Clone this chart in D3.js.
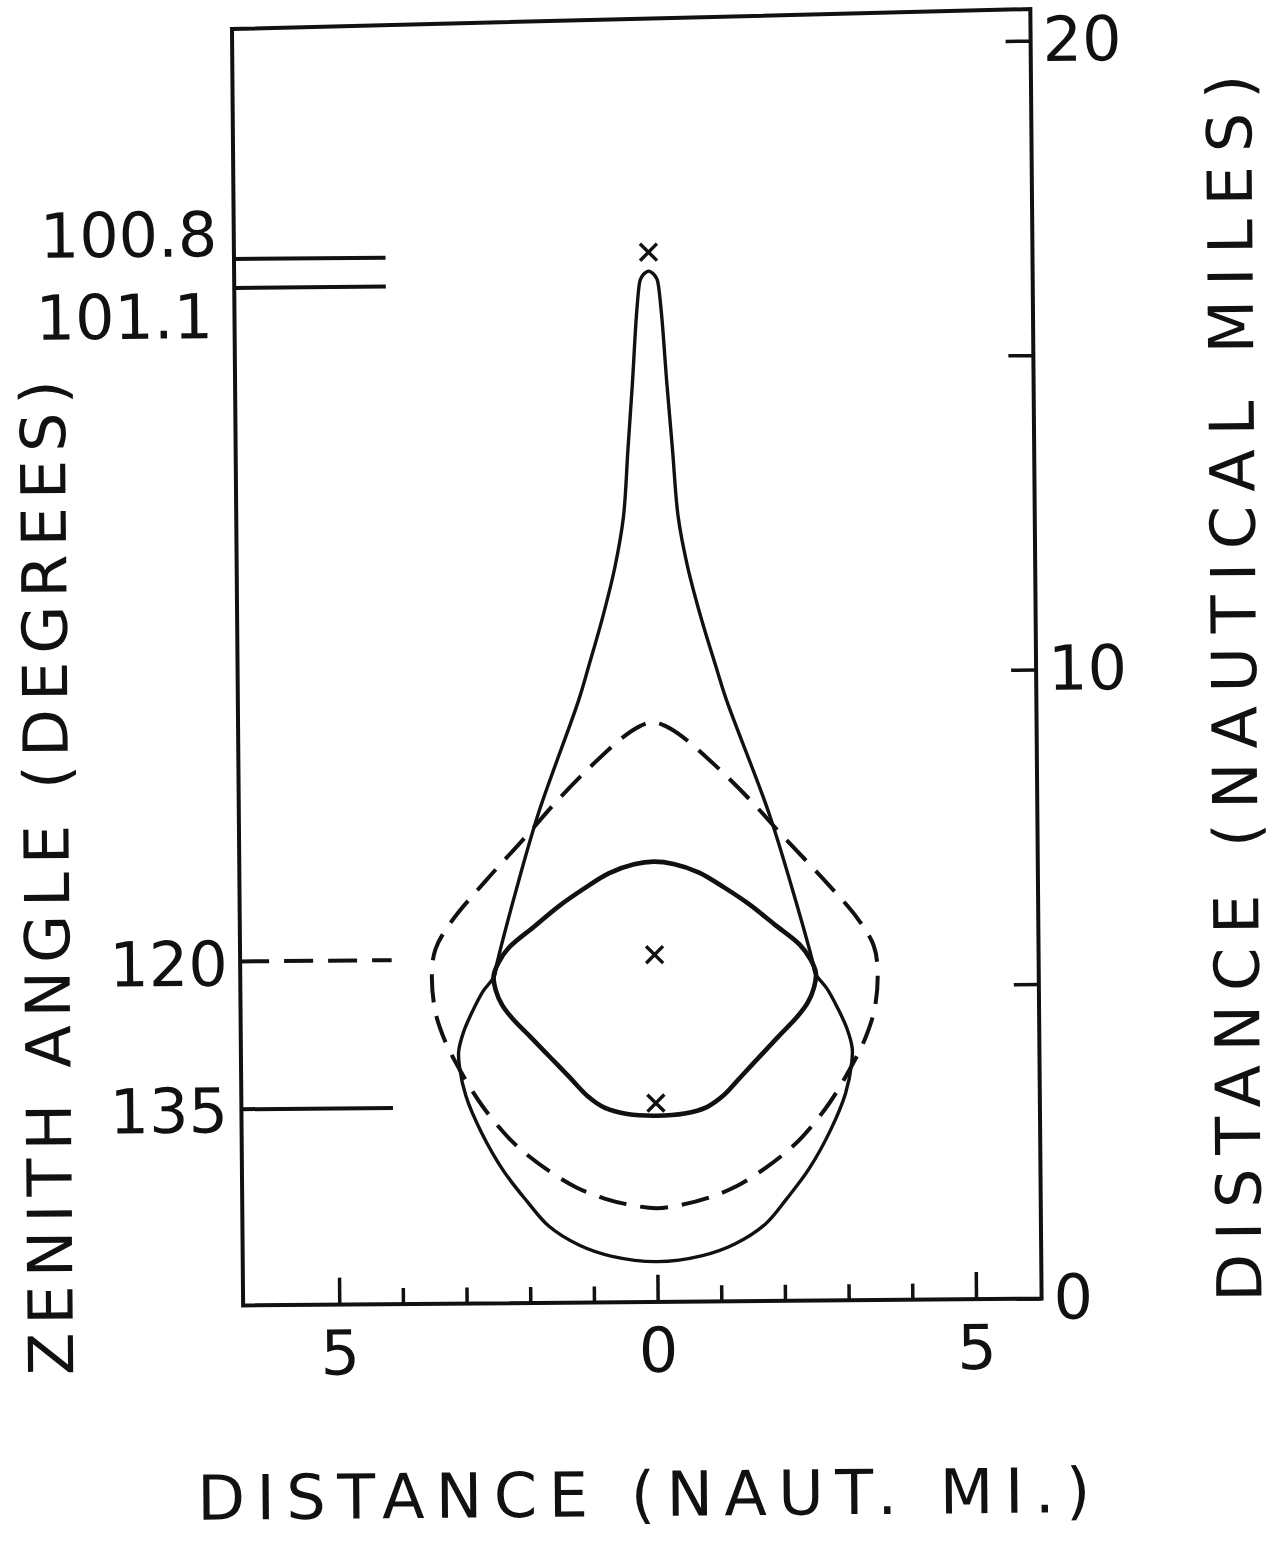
<!DOCTYPE html>
<html>
<head>
<meta charset="utf-8">
<script src="https://cdn.jsdelivr.net/npm/d3@7"></script>
<style>
    body { margin: 0; background: #fff; }
    text { font-family: "DejaVu Sans", sans-serif; fill: #111; }
</style>
</head>
<body>
<svg id="chart" width="1276" height="1542"></svg>
<script>
// right half of each closed curve, [distance, distance] in naut. mi., top to bottom
const teardropHalf = [
    [0, 16.39], [0.08, 16.34], [0.13, 16.26], [0.15, 16.17], [0.20, 15.66],
    [0.27, 14.61], [0.35, 13.55], [0.43, 12.48], [0.57, 11.69], [0.77, 10.89],
    [1.00, 10.10], [1.16, 9.57], [1.81, 7.77], [2.17, 6.55], [2.48, 5.39],
    [2.52, 5.20], [2.70, 4.96], [2.87, 4.64], [3.01, 4.32], [3.09, 4.01],
    [3.08, 3.77], [2.98, 3.29], [2.75, 2.73], [2.40, 2.10], [2.04, 1.62],
    [1.70, 1.22], [1.22, 0.91], [0.71, 0.73], [0, 0.64],
];
const diamondHalf = [
    [0, 7.00], [0.31, 6.96], [0.71, 6.82], [1.10, 6.58], [1.49, 6.31],
    [1.88, 5.99], [2.28, 5.66], [2.45, 5.42], [2.53, 5.21], [2.50, 4.98],
    [2.40, 4.74], [2.22, 4.50], [1.95, 4.22], [1.65, 3.90], [1.35, 3.58],
    [1.06, 3.27], [0.80, 3.09], [0.45, 2.99], [0, 2.96],
];
const dashedHalf = [
    [0, 9.22], [0.19, 9.16], [0.47, 8.98], [0.99, 8.51], [1.51, 7.98],
    [2.03, 7.39], [2.65, 6.71], [3.19, 6.07], [3.44, 5.64], [3.50, 5.23],
    [3.45, 4.64], [3.30, 4.17], [3.06, 3.69], [2.72, 3.13], [2.31, 2.62],
    [2.01, 2.34], [1.65, 2.07], [1.26, 1.83], [0.82, 1.65], [0.39, 1.54],
    [0, 1.49],
];

const markerDistances = [16.69, 5.52, 3.16];

const zenithLabels = ['100.8', '101.1', '120', '135'];
const zenithDistances = [16.64, 16.18, 5.47, 3.12];
const zenithDashed = [false, false, true, false];
const zenithEnd = -4.13;

const xDomain = [-6.51, 6.03];
const yDomain = [0, 20.4];
const xTickValues = [-5, -4, -3, -2, -1, 0, 1, 2, 3, 4, 5];
const xLabelValues = [-5, 0, 5];
const yTickValues = [0, 5, 10, 15, 20];
const yLabelValues = [0, 10, 20];

const INK = '#111';
const FONT = 62;
const TOP_TILT = 6.5;   // hand-drawn top edge runs slightly uphill

const svg = d3.select('#chart');
svg.append('rect').attr('width', 1276).attr('height', 1542).attr('fill', '#fff');

// the scanned figure sits slightly rotated on the page
const g = svg.append('g').attr('transform', 'rotate(-0.5, 637, 660)');

const x = d3.scaleLinear().domain(xDomain).range([237.5, 1036]);
const y = d3.scaleLinear().domain(yDomain).range([1302, 19]);

// frame
const x0 = x(xDomain[0]), x1 = x(xDomain[1]);
const yb = y(yDomain[0]), yt = y(yDomain[1]);
g.append('path')
    .attr('d', d3.line()([
        [x0, yb], [x0, yt + TOP_TILT], [x1, yt - TOP_TILT], [x1, yb],
    ]) + 'Z')
    .attr('fill', 'none')
    .attr('stroke', INK)
    .attr('stroke-width', 4)
    .attr('stroke-linejoin', 'miter');

// bottom axis, ticks pointing up
g.append('g')
    .attr('transform', `translate(0,${yb})`)
    .call(d3.axisBottom(x)
        .tickValues(xTickValues)
        .tickSize(-16)
        .tickPadding(26)
        .tickFormat(d => xLabelValues.includes(d) ? Math.abs(d) : ''))
    .call(a => a.select('.domain').remove())
    .call(a => a.selectAll('.tick line')
        .attr('y2', d => xLabelValues.includes(d) ? -27 : -16)
        .attr('stroke', INK)
        .attr('stroke-width', 3.5))
    .call(a => a.selectAll('.tick text')
        .attr('font-size', FONT)
        .attr('font-family', '"DejaVu Sans", sans-serif'));

// right axis, ticks pointing left
g.append('g')
    .attr('transform', `translate(${x1},0)`)
    .call(d3.axisRight(y)
        .tickValues(yTickValues)
        .tickSize(-25)
        .tickPadding(12)
        .tickFormat(d => yLabelValues.includes(d) ? d : ''))
    .call(a => a.select('.domain').remove())
    .call(a => a.selectAll('.tick line')
        .attr('stroke', INK)
        .attr('stroke-width', 3.5))
    .call(a => a.selectAll('.tick text')
        .attr('font-size', FONT)
        .attr('font-family', '"DejaVu Sans", sans-serif'));

// zenith angle reference lines and labels
const labelRight = [221, 216, 225, 224];
const labelDy = [-3, 50, 24, 23];
zenithLabels.forEach((lab, i) => {
    const yy = y(zenithDistances[i]);
    g.append('line')
        .attr('x1', x0)
        .attr('x2', x(zenithEnd))
        .attr('y1', yy)
        .attr('y2', yy)
        .attr('stroke', INK)
        .attr('stroke-width', 4)
        .attr('stroke-dasharray', zenithDashed[i] ? '29,15' : null);
    g.append('text')
        .attr('x', labelRight[i])
        .attr('y', yy + labelDy[i])
        .attr('text-anchor', 'end')
        .attr('font-size', FONT)
        .text(lab);
});

// curves
const mirror = half => half.concat(
    half.slice(1, -1).reverse().map(([a, b]) => [-a, b]));

const ring = d3.line()
    .x(d => x(d[0]))
    .y(d => y(d[1]))
    .curve(d3.curveCatmullRomClosed.alpha(0.5));

g.append('path')
    .attr('d', ring(mirror(dashedHalf)))
    .attr('fill', 'none')
    .attr('stroke', INK)
    .attr('stroke-width', 4)
    .attr('stroke-dasharray', '28,14');

g.append('path')
    .attr('d', ring(mirror(teardropHalf)))
    .attr('fill', 'none')
    .attr('stroke', INK)
    .attr('stroke-width', 3.4)
    .attr('stroke-linejoin', 'round');

g.append('path')
    .attr('d', ring(mirror(diamondHalf)))
    .attr('fill', 'none')
    .attr('stroke', INK)
    .attr('stroke-width', 4.6);

// x markers
g.selectAll('.marker')
    .data(markerDistances)
    .join('path')
    .attr('class', 'marker')
    .attr('transform', d => `translate(${x(0)},${y(d)})`)
    .attr('d', d3.symbol(d3.symbolTimes, 190))
    .attr('fill', 'none')
    .attr('stroke', INK)
    .attr('stroke-width', 3.4);

// axis titles
g.append('text')
    .attr('transform', 'translate(67,1370) rotate(-90)')
    .attr('font-size', FONT)
    .attr('textLength', 995)
    .attr('lengthAdjust', 'spacing')
    .text('ZENITH ANGLE (DEGREES)');

g.append('text')
    .attr('transform', 'translate(1256,1307) rotate(-90)')
    .attr('font-size', FONT)
    .attr('textLength', 1227)
    .attr('lengthAdjust', 'spacing')
    .text('DISTANCE (NAUTICAL MILES)');

g.append('text')
    .attr('x', 190)
    .attr('y', 1516)
    .attr('font-size', FONT)
    .attr('textLength', 893)
    .attr('lengthAdjust', 'spacing')
    .text('DISTANCE (NAUT. MI.)');
</script>
</body>
</html>
